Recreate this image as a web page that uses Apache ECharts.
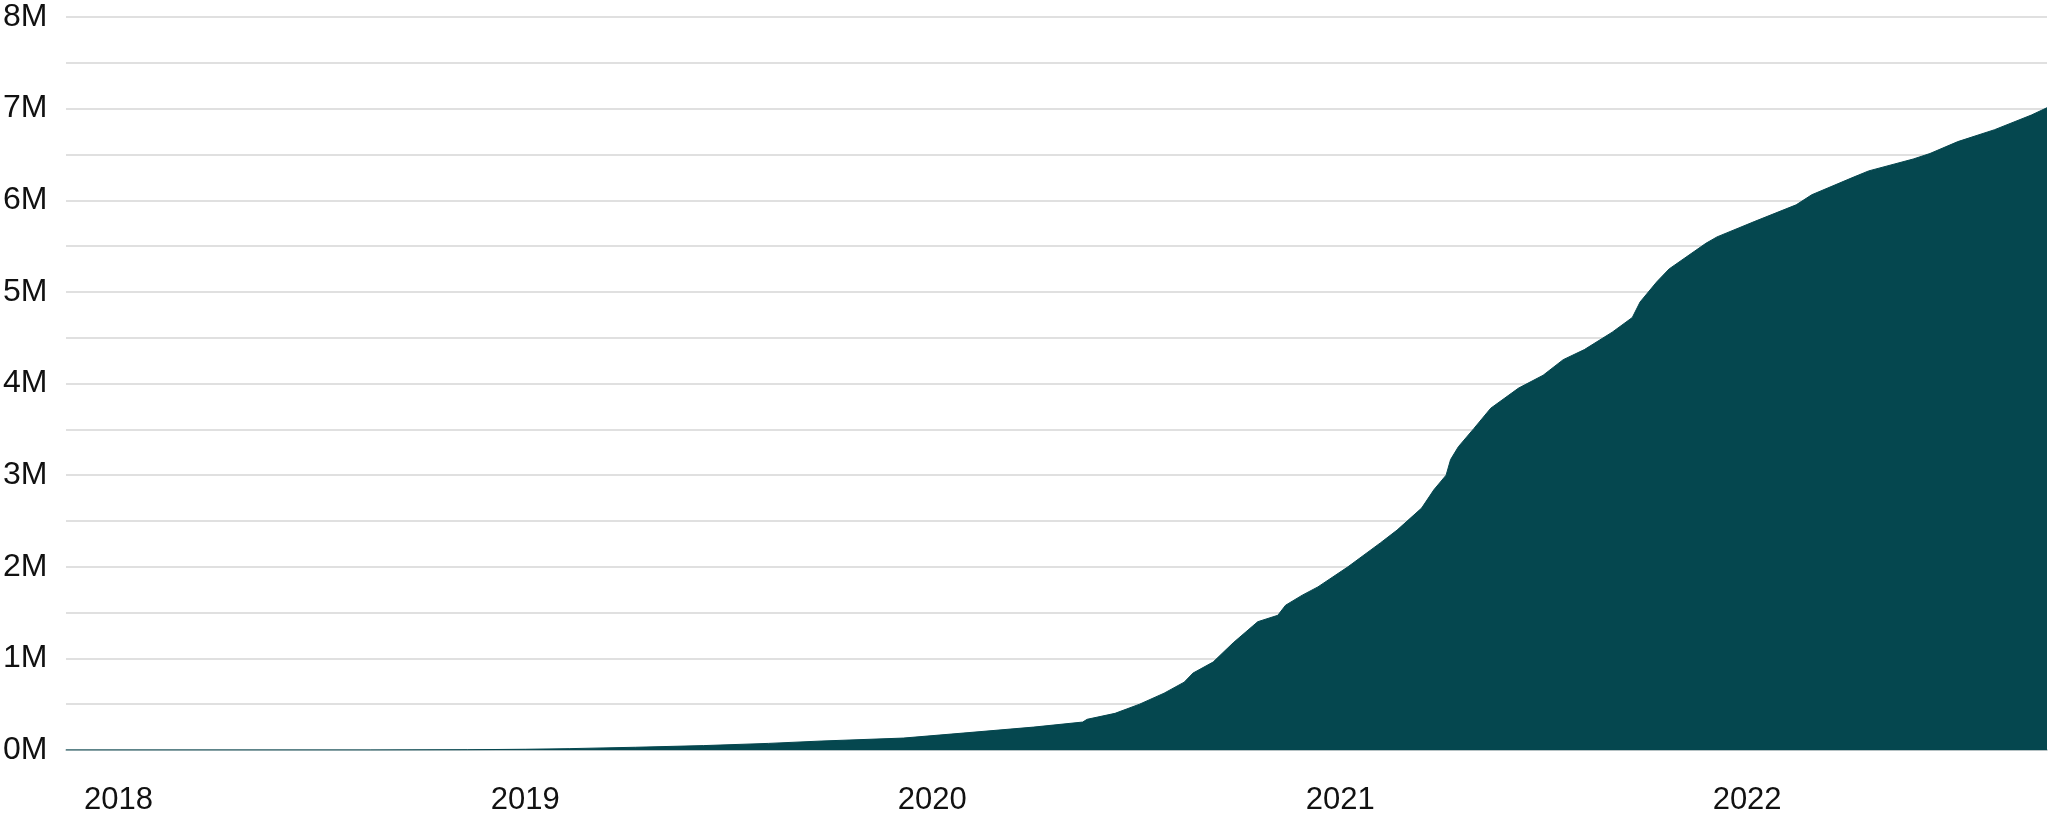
<!DOCTYPE html>
<html>
<head>
<meta charset="UTF-8">
<title>Cumulative total</title>
<style>
  * { margin: 0; padding: 0; box-sizing: border-box; }
  html, body { width: 2048px; height: 822px; background: #fff; overflow: hidden; }
  #chart { width: 2048px; height: 822px; }
</style>
<script src="https://cdn.jsdelivr.net/npm/echarts@6/dist/echarts.min.js"></script>
</head>
<body>
<div id="chart"></div>
<script>
// 数据
const dates = [
  '2017-11-15', '2018-08-15', '2018-11-10', '2019-01-01', '2019-02-10', '2019-04-10',
  '2019-06-10', '2019-08-07', '2019-09-24', '2019-12-06', '2020-02-03', '2020-04-01',
  '2020-05-15', '2020-05-19', '2020-06-13', '2020-07-05', '2020-07-27', '2020-08-14',
  '2020-08-22', '2020-09-09', '2020-09-27', '2020-10-19', '2020-11-06', '2020-11-13',
  '2020-11-28', '2020-12-12', '2021-01-08', '2021-02-06', '2021-02-21', '2021-03-15',
  '2021-03-26', '2021-04-06', '2021-04-10', '2021-04-17', '2021-05-01', '2021-05-16',
  '2021-06-10', '2021-07-02', '2021-07-20', '2021-08-08', '2021-09-02', '2021-09-20',
  '2021-09-27', '2021-10-12', '2021-10-23', '2021-11-25', '2021-12-05', '2022-01-08',
  '2022-02-14', '2022-02-28', '2022-04-06', '2022-04-20', '2022-05-30', '2022-06-14',
  '2022-07-09', '2022-08-11', '2022-09-13', '2022-09-27'
]
const totals = [
  0, 0, 3000, 8000, 15000, 30000,
  48000, 72000, 98000, 130000, 190000, 250000,
  305000, 335000, 400000, 500000, 620000, 740000,
  840000, 960000, 1170000, 1400000, 1470000, 1580000,
  1690000, 1780000, 2000000, 2260000, 2400000, 2640000,
  2840000, 3000000, 3170000, 3310000, 3510000, 3730000,
  3950000, 4090000, 4260000, 4370000, 4560000, 4720000,
  4890000, 5110000, 5250000, 5530000, 5600000, 5770000,
  5950000, 6060000, 6250000, 6320000, 6450000, 6510000,
  6640000, 6770000, 6930000, 7010000
]
const yearTicks = [2018, 2019, 2020, 2021, 2022]

// 日期字符串转时间戳
const toTs = (s) => {
  const [y, m, d] = s.split('-').map(Number)
  return Date.UTC(y, m - 1, d)
}

const chart = echarts.init(document.getElementById('chart'))

const option = {
  animation: false,
  grid: { left: 63, right: 1, top: 17, bottom: 72, containLabel: false },
  xAxis: {
    type: 'value',
    min: toTs(dates[0]),
    max: toTs(dates[dates.length - 1]),
    axisLine: { show: true, onZero: false, lineStyle: { color: '#a7b7b9', width: 1.5 } },
    axisTick: { show: false },
    splitLine: { show: false },
    axisLabel: {
      customValues: yearTicks.map(y => Date.UTC(y, 0, 1)),
      formatter: (v) => String(new Date(v).getUTCFullYear()),
      color: '#111',
      fontFamily: 'Liberation Sans, Arial, sans-serif',
      fontSize: 31,
      margin: 35,
      hideOverlap: false
    }
  },
  yAxis: {
    type: 'value',
    min: 0,
    max: 8000000,
    interval: 500000,
    axisLine: { show: false },
    axisTick: { show: false },
    splitLine: { show: true, lineStyle: { color: '#d6d6d6', width: 1.5 } },
    axisLabel: {
      formatter: (v) => (v % 1000000 === 0 ? (v / 1000000) + 'M' : ''),
      color: '#111',
      fontFamily: 'Liberation Sans, Arial, sans-serif',
      fontSize: 32,
      align: 'left',
      padding: [4, 0, 0, 0],
      margin: 63
    }
  },
  series: [{
    type: 'line',
    data: dates.map((d, i) => [toTs(d), totals[i]]),
    showSymbol: false,
    smooth: false,
    lineStyle: { width: 1, color: '#05474f' },
    areaStyle: { color: '#05474f', opacity: 1 },
    silent: true
  }]
}

chart.setOption(option)
</script>
</body>
</html>
